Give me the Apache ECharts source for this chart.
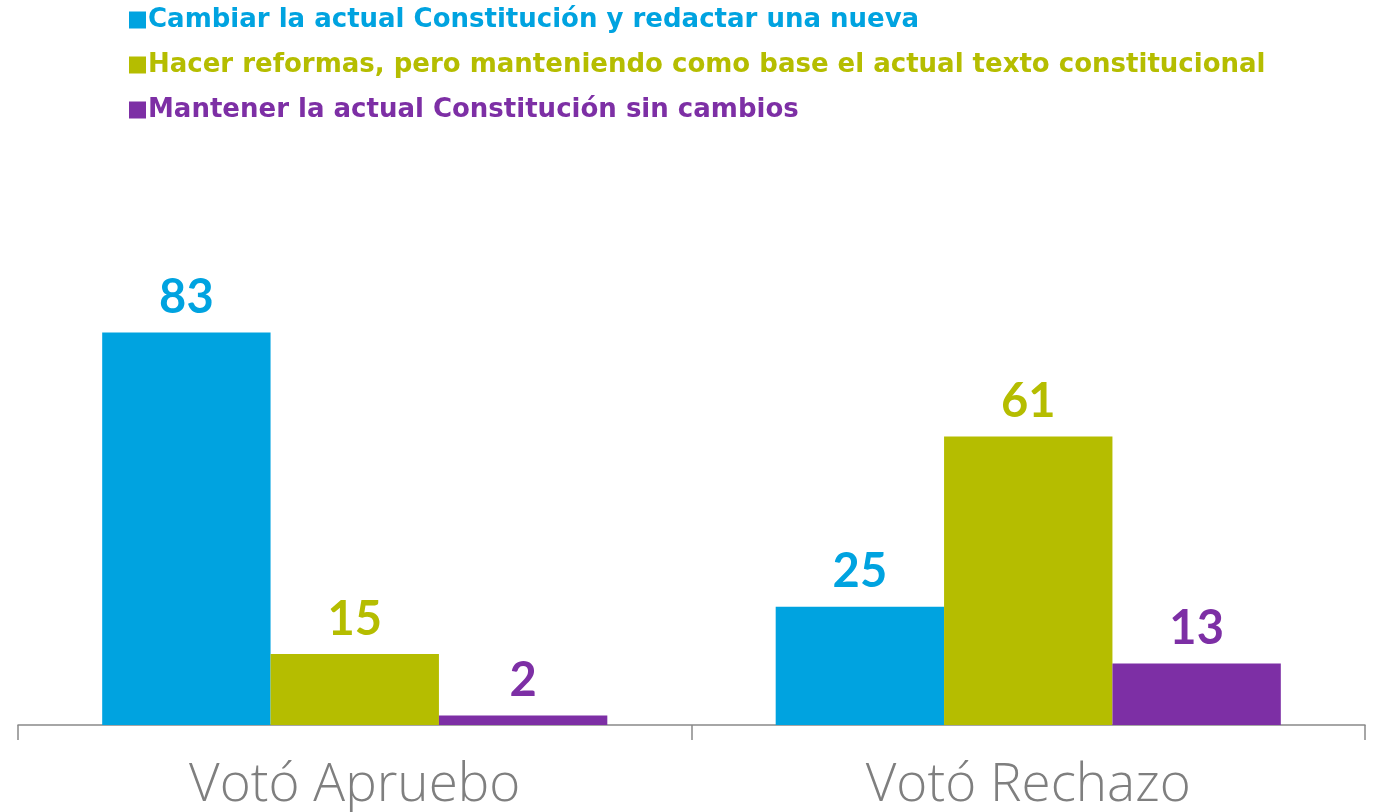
<!DOCTYPE html>
<html>
<head>
<meta charset="utf-8">
<script src="https://cdn.jsdelivr.net/npm/echarts@6/dist/echarts.min.js"></script>
<style>
  html, body { margin: 0; padding: 0; background: #fff; }
  #chart { width: 1380px; height: 812px; }
</style>
</head>
<body>
<div id="chart"></div>
<script>
const categories = ['Votó Apruebo', 'Votó Rechazo'];
const seriesNames = [
  'Cambiar la actual Constitución y redactar una nueva',
  'Hacer reformas, pero manteniendo como base el actual texto constitucional',
  'Mantener la actual Constitución sin cambios'
];
const cambiar = [83, 25];
const reformas = [15, 61];
const mantener = [2, 13];
const colors = ['#00A3E0', '#B5BD00', '#7D2FA5'];

const chart = echarts.init(document.getElementById('chart'));

const makeSeries = (name, data, color) => ({
  name,
  type: 'bar',
  data,
  barGap: '0%',
  barCategoryGap: '25%',
  itemStyle: { color },
  label: {
    show: true,
    position: 'top',
    distance: 11,
    color,
    fontFamily: 'Lato',
    fontWeight: 'bold',
    fontSize: 47
  }
});

chart.setOption({
  animation: false,
  color: colors,
  legend: {
    orient: 'vertical',
    left: 124,
    top: 2,
    itemWidth: 17,
    itemHeight: 17,
    itemGap: 19,
    icon: 'rect',
    data: seriesNames.map((n, i) => ({ name: n, textStyle: { color: colors[i] } })),
    textStyle: {
      fontFamily: 'DejaVu Sans',
      fontWeight: 'bold',
      fontSize: 26,
      padding: [0, 0, 0, -3]
    }
  },
  grid: { left: 18, right: 15, top: 252, bottom: 83 },
  xAxis: {
    type: 'category',
    data: categories,
    axisLine: { lineStyle: { color: '#898989', width: 1.5 } },
    axisTick: { show: true, length: 15, lineStyle: { color: '#898989', width: 1.5 } },
    axisLabel: {
      margin: 34,
      color: '#7f7f7f',
      fontFamily: 'Open Sans',
      fontWeight: 300,
      fontSize: 53
    }
  },
  yAxis: {
    type: 'value',
    min: 0,
    max: 100,
    show: false,
    splitLine: { show: false }
  },
  series: [
    makeSeries(seriesNames[0], cambiar, colors[0]),
    makeSeries(seriesNames[1], reformas, colors[1]),
    makeSeries(seriesNames[2], mantener, colors[2])
  ]
});
</script>
</body>
</html>
